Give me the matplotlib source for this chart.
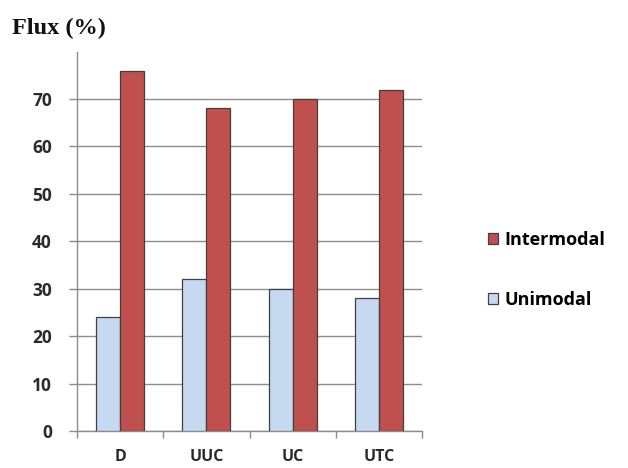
import matplotlib.pyplot as plt
import numpy as np

categories = ["D", "UUC", "UC", "UTC"]
unimodal = [24, 32, 30, 28]
intermodal = [76, 68, 70, 72]
yticks = [0, 10, 20, 30, 40, 50, 60, 70]

RED = "#c0504d"
BLUE = "#c6d9f1"
GRID = "#8c8c8c"

fig = plt.figure(figsize=(6.28, 4.68), dpi=100)
ax = fig.add_axes([0.1226, 0.079, 0.672 - 0.1226, 0.8898 - 0.079])

x = np.arange(len(categories))
w = 0.277
ax.bar(x - w / 2, unimodal, w, color=BLUE, edgecolor="#404040", linewidth=0.9,
       label="Unimodal", zorder=3)
ax.bar(x + w / 2, intermodal, w, color=RED, edgecolor="#404040", linewidth=0.9,
       label="Intermodal", zorder=3)

ax.set_xlim(-0.5, len(categories) - 0.5)
ax.set_ylim(0, 80)
ax.set_yticks(yticks)
ax.yaxis.grid(True, color=GRID, linewidth=1.0, zorder=0)
ax.set_axisbelow(True)

for s in ["top", "right"]:
    ax.spines[s].set_visible(False)
ax.spines["left"].set_color(GRID)
ax.spines["bottom"].set_color(GRID)
ax.spines["left"].set_linewidth(1.0)
ax.spines["bottom"].set_linewidth(1.0)

ax.set_xticks(x)
ax.set_xticklabels(categories)
ax.set_xticks(np.arange(-0.5, len(categories)), minor=True)
ax.tick_params(axis="x", which="major", length=0, pad=13)
ax.tick_params(axis="x", which="minor", length=5, color=GRID, width=1.0)
ax.tick_params(axis="y", length=6, color=GRID, width=1.0, pad=12)
for lab in ax.get_yticklabels():
    lab.set_fontweight("bold")
    lab.set_fontfamily("Open Sans")
    lab.set_fontsize(12.5)
    lab.set_color("#2a2a2a")
for lab in ax.get_xticklabels():
    lab.set_fontweight("bold")
    lab.set_fontfamily("Open Sans")
    lab.set_fontsize(11.5)
    lab.set_color("#2a2a2a")

fig.text(0.019, 0.94, "Flux (%)", fontsize=17.5, fontweight="bold",
         family="Liberation Serif", ha="left", va="center", color="#111111")

h, l = ax.get_legend_handles_labels()
fig.legend(h[::-1], l[::-1], loc="center left", bbox_to_anchor=(0.757, 0.423),
           frameon=False, borderpad=0.2, handlelength=0.55, handleheight=0.55,
           handletextpad=0.35, labelspacing=2.3,
           prop={"family": "Open Sans", "weight": "bold", "size": 13})

fig.savefig("out.png", dpi=100, facecolor="white")
